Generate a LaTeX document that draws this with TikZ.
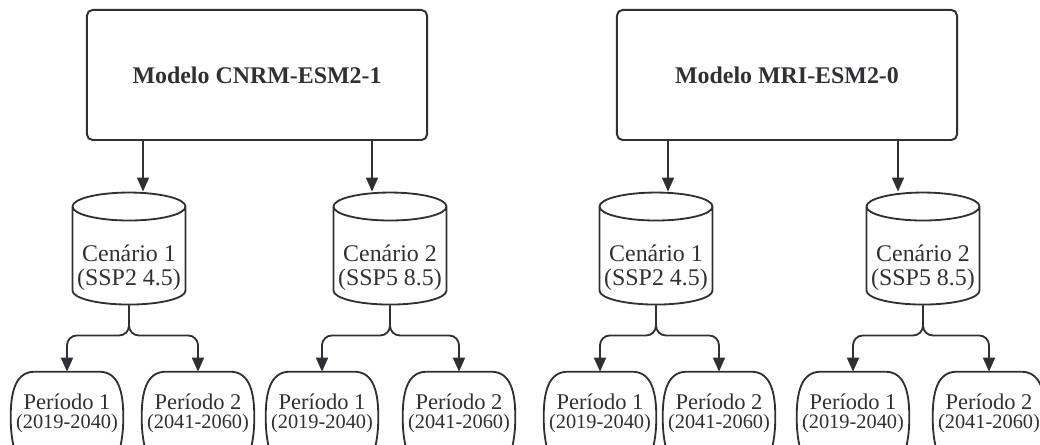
\documentclass[tikz,border=0pt]{standalone}
\usepackage{fontspec}
\setmainfont{Liberation Serif}
\usetikzlibrary{arrows.meta,calc,positioning,shapes.geometric}
\definecolor{ink}{HTML}{2E3033}
\newcommand{\twolines}[3]{\raisebox{#1}[\height][\depth]{\begin{tabular}{@{}c@{}}#2\\#3\end{tabular}}}
\tikzset{box/.style={draw=ink,line width=1.4pt,rounded corners=4pt,minimum width=8.5cm,minimum height=3.25cm,
    text=ink,font=\fontsize{17}{20}\selectfont\bfseries},
  cyl/.style={cylinder,shape border rotate=90,aspect=0.27,draw=ink,line width=1.3pt,minimum width=2.825cm,
    minimum height=2.8cm,inner sep=0pt,text=ink,font=\fontsize{17}{16.5}\selectfont},
  periodo/.style={minimum width=2.8cm,minimum height=1.75cm,inner sep=0pt,text=ink,
    font=\fontsize{16}{13.6}\selectfont},
  outline/.style={draw=ink,line width=1.3pt},
  arr/.style={-{Triangle[length=10pt,width=8.5pt]},draw=ink,line width=1.3pt}}

\begin{document}
\begin{tikzpicture}[x=0.025cm,y=-0.025cm]
\useasboundingbox (0,0) rectangle (1040,445);
\clip (0,0) rectangle (1040,445);
% models
\node[box] (m1) at (257,75) {Modelo CNRM-ESM2-1};
\node[box] (m2) at (787,75) {Modelo MRI-ESM2-0};
% scenarios
\node[cyl] (c11) at (129,256) {\twolines{-9pt}{Cenário 1}{(SSP2 4.5)}};
\node[cyl] (c12) at (390,256) {\twolines{-9pt}{Cenário 2}{(SSP5 8.5)}};
\node[cyl] (c21) at (656,256) {\twolines{-9pt}{Cenário 1}{(SSP2 4.5)}};
\node[cyl] (c22) at (923,256) {\twolines{-9pt}{Cenário 2}{(SSP5 8.5)}};
% periods
\node[periodo] (p111) at (67,407) {\twolines{-5pt}{Período 1}{\fontsize{14.5}{14}\selectfont(2019-2040)}};
\node[periodo] (p112) at (198,407) {\twolines{-5pt}{Período 2}{\fontsize{14.5}{14}\selectfont(2041-2060)}};
\node[periodo] (p121) at (322,407) {\twolines{-5pt}{Período 1}{\fontsize{14.5}{14}\selectfont(2019-2040)}};
\node[periodo] (p122) at (459,407) {\twolines{-5pt}{Período 2}{\fontsize{14.5}{14}\selectfont(2041-2060)}};
\node[periodo] (p211) at (600,407) {\twolines{-5pt}{Período 1}{\fontsize{14.5}{14}\selectfont(2019-2040)}};
\node[periodo] (p212) at (719,407) {\twolines{-5pt}{Período 2}{\fontsize{14.5}{14}\selectfont(2041-2060)}};
\node[periodo] (p221) at (853,407) {\twolines{-5pt}{Período 1}{\fontsize{14.5}{14}\selectfont(2019-2040)}};
\node[periodo] (p222) at (989,407) {\twolines{-5pt}{Período 2}{\fontsize{14.5}{14}\selectfont(2041-2060)}};
\foreach \n in {p111,p112,p121,p122,p211,p212,p221,p222}
  \draw[outline] ($(\n.north west)+(14,95)$) .. controls ($(\n.north west)+(2,85)$) and ($(\n.north west)+(0,62)$) .. ($(\n.north west)+(0,45)$)
    .. controls ($(\n.north west)+(0,22)$) and ($(\n.north west)+(4,0)$) .. ($(\n.north west)+(24,0)$)
    -- ($(\n.north east)+(-24,0)$) .. controls ($(\n.north east)+(-4,0)$) and ($(\n.north east)+(0,22)$) .. ($(\n.north east)+(0,45)$)
    .. controls ($(\n.north east)+(0,62)$) and ($(\n.north east)+(-2,85)$) .. ($(\n.north east)+(-14,95)$);
% model -> scenario
\coordinate (t11) at ($(c11.north)+(14,0)$);
\coordinate (t12) at ($(c12.north)+(-18,0)$);
\coordinate (t21) at ($(c21.north)+(12,0)$);
\coordinate (t22) at ($(c22.north)+(-25,0)$);
\draw[arr] (t11 |- m1.south) -- (t11);
\draw[arr] (t12 |- m1.south) -- (t12);
\draw[arr] (t21 |- m2.south) -- (t21);
\draw[arr] (t22 |- m2.south) -- (t22);
% scenario -> period
\foreach \c/\a/\b in {c11/p111/p112,c12/p121/p122,c21/p211/p212,c22/p221/p222}{
  \draw[arr,rounded corners=7pt] (\c.south) -- ++(0,30) -| (\a.north);
  \draw[arr,rounded corners=7pt] (\c.south) -- ++(0,30) -| (\b.north);
}
\end{tikzpicture}
\end{document}
